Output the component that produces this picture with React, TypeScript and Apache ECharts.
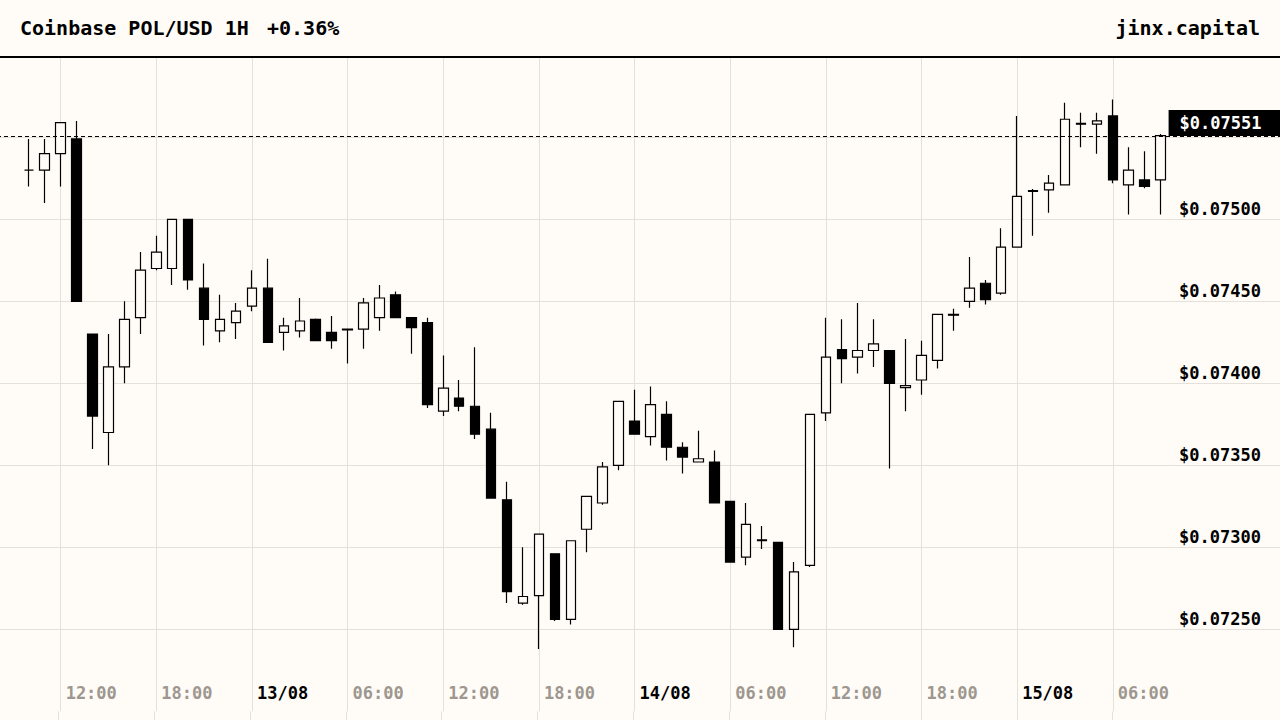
import React, { useEffect, useRef } from "react";
import * as echarts from "echarts";

// ---- data (prices in USD) ----
const START_HOUR = 10; // first candle: 12/08 10:00 (hours counted from 12/08 00:00)
const opens = [
  0.07530, 0.07530, 0.07540, 0.07549, 0.07430, 0.07370, 0.07410, 0.07440, 0.07470, 0.07470,
  0.07500, 0.07458, 0.07432, 0.07437, 0.07447, 0.07458, 0.07431, 0.07432, 0.07439, 0.07431,
  0.07433, 0.07433, 0.07440, 0.07454, 0.07440, 0.07437, 0.07383, 0.07391, 0.07386, 0.07372,
  0.07329, 0.07266, 0.072705, 0.07296, 0.07256, 0.07311, 0.07327, 0.07350, 0.07377, 0.073675,
  0.07381, 0.07361, 0.07352, 0.07352, 0.07328, 0.07294, 0.073045, 0.07303, 0.07250, 0.07289,
  0.07382, 0.074205, 0.07416, 0.07420, 0.07420, 0.073974, 0.07402, 0.07414, 0.07442, 0.07450,
  0.07461, 0.07455, 0.07483, 0.075175, 0.07518, 0.07521, 0.075585, 0.07558, 0.07563, 0.07521,
  0.07524, 0.07524,
];
const closes = [
  0.07530, 0.07540, 0.07559, 0.07450, 0.07380, 0.07410, 0.07439, 0.07469, 0.07480, 0.07500,
  0.07463, 0.07439, 0.07439, 0.07444, 0.07458, 0.07425, 0.07435, 0.07438, 0.07426, 0.07426,
  0.074325, 0.07449, 0.07452, 0.07440, 0.07434, 0.07387, 0.07397, 0.07386, 0.07369, 0.07330,
  0.07273, 0.07270, 0.07308, 0.07256, 0.07304, 0.07331, 0.07349, 0.07389, 0.07369, 0.07387,
  0.07361, 0.07355, 0.07354, 0.07327, 0.07291, 0.07314, 0.07304, 0.07250, 0.07285, 0.07381,
  0.07416, 0.07415, 0.07420, 0.07424, 0.07400, 0.073986, 0.07417, 0.07442, 0.074415, 0.07458,
  0.07451, 0.07483, 0.07514, 0.07517, 0.07522, 0.07561, 0.07558, 0.07560, 0.07524, 0.07530,
  0.07520, 0.07551,
];
const lows = [
  0.07520, 0.07510, 0.07520, 0.07450, 0.07360, 0.07350, 0.07400, 0.07430, 0.07469, 0.07460,
  0.07457, 0.07423, 0.07425, 0.07427, 0.07444, 0.07425, 0.07420, 0.07428, 0.07426, 0.07421,
  0.07412, 0.07421, 0.07432, 0.07440, 0.07418, 0.07385, 0.07380, 0.07383, 0.07366, 0.07330,
  0.07266, 0.07265, 0.07238, 0.07255, 0.07253, 0.07297, 0.07326, 0.07347, 0.07369, 0.07362,
  0.07353, 0.07345, 0.07352, 0.07327, 0.07291, 0.07289, 0.07299, 0.07250, 0.07239, 0.07288,
  0.07377, 0.07400, 0.07406, 0.07410, 0.07348, 0.07383, 0.07393, 0.07409, 0.07432, 0.07446,
  0.07448, 0.07454, 0.07483, 0.07490, 0.07504, 0.07521, 0.07544, 0.07540, 0.07522, 0.07503,
  0.07519, 0.07503,
];
const highs = [
  0.07549, 0.07549, 0.07559, 0.07560, 0.07430, 0.07430, 0.07450, 0.07480, 0.07490, 0.07500,
  0.07500, 0.07473, 0.07454, 0.07449, 0.07469, 0.07476, 0.07440, 0.07452, 0.074395, 0.07441,
  0.07433, 0.07452, 0.07460, 0.07456, 0.07440, 0.07440, 0.07417, 0.07402, 0.07422, 0.07382,
  0.07340, 0.07300, 0.07308, 0.07296, 0.07304, 0.07331, 0.07352, 0.07389, 0.07396, 0.07398,
  0.07389, 0.07364, 0.07371, 0.07359, 0.07328, 0.07327, 0.07313, 0.07303, 0.07291, 0.07381,
  0.07440, 0.07439, 0.07449, 0.07439, 0.07420, 0.07427, 0.07426, 0.07442, 0.074455, 0.07477,
  0.07463, 0.074945, 0.07563, 0.075185, 0.07527, 0.07571, 0.07565, 0.07565, 0.07573, 0.07544,
  0.075415, 0.07552,
];

const xTickHours = [12, 18, 24, 30, 36, 42, 48, 54, 60, 66, 72, 78];
const xTickLabels = ["12:00", "18:00", "13/08", "06:00", "12:00", "18:00", "14/08", "06:00", "12:00", "18:00", "15/08", "06:00"];
const yTickValues = [0.0725, 0.073, 0.0735, 0.074, 0.0745, 0.075];

const TITLE = "Coinbase POL/USD 1H";
const CHANGE = "+0.36%";
const BRAND = "jinx.capital";
const LAST_PRICE = closes[closes.length - 1];

// ---- style ----
const BG = "#fffcf7";
const GRID = "#e5e1da";
const GRAY = "#9d978f";
const FONT = '"DejaVu Sans Mono", monospace';

// The chart canvas starts OFF px left of the page so the x axis can start at a 6-hour tick.
const OFF = 38;
const W = 1280 + OFF;
const X_MIN = 6;
const X_MAX = 81.5;
const Y_MIN = 0.072;
const Y_MAX = 0.0759835;
const PLOT_RIGHT = 111.4;

export default function App() {
  const ref = useRef<HTMLDivElement>(null);

  useEffect(() => {
    document.body.style.margin = "0";
    document.body.style.background = BG;
    document.body.style.overflow = "hidden";
    if (!ref.current) return;
    const chart = echarts.init(ref.current, null, { renderer: "svg" });

    const candleData = opens.map((o, i) => [START_HOUR + i, o, closes[i], lows[i], highs[i]]);

    const splitLine = {
      show: true,
      showMinLine: false,
      showMaxLine: false,
      lineStyle: { color: GRID, width: 1 },
    };
    const hidden = { axisLine: { show: false }, axisTick: { show: false } };

    const xFormatter = (v: number) => {
      const r = Math.round(v);
      if (Math.abs(v - r) > 1e-6) return "";
      const idx = xTickHours.indexOf(r);
      if (idx < 0) return "";
      const lab = xTickLabels[idx];
      return lab.indexOf("/") >= 0 ? `{d|${lab}}` : `{t|${lab}}`;
    };
    const yFormatter = (v: number) => {
      const k = Math.round(v * 1e5);
      const ok = yTickValues.some((t) => Math.round(t * 1e5) === k);
      return ok ? "$" + v.toFixed(5) : "";
    };

    const gridLeft = 0.44;
    const option: any = {
      animation: false,
      backgroundColor: BG,
      grid: [
        { left: gridLeft, right: PLOT_RIGHT, top: 58, bottom: 8.7 },
        { left: W - PLOT_RIGHT, right: 0, top: 58, bottom: 8.7 },
        { left: gridLeft, right: PLOT_RIGHT, top: 711.3, bottom: 0 },
      ],
      xAxis: [
        {
          type: "value",
          gridIndex: 0,
          min: X_MIN,
          max: X_MAX,
          interval: 6,
          ...hidden,
          splitLine,
          axisLabel: {
            inside: true,
            align: "left",
            margin: 10,
            padding: [0, 0, 0, 5],
            formatter: xFormatter,
            rich: {
              d: { color: "#000", fontFamily: FONT, fontWeight: "bold", fontSize: 17, lineHeight: 17 },
              t: { color: GRAY, fontFamily: FONT, fontWeight: "bold", fontSize: 17, lineHeight: 17 },
            },
          },
        },
        { type: "value", gridIndex: 1, min: 0, max: 1, show: false },
        {
          type: "value",
          gridIndex: 2,
          min: X_MIN,
          max: X_MAX,
          interval: 6,
          ...hidden,
          axisLabel: { show: false },
          splitLine,
        },
      ],
      yAxis: [
        {
          type: "value",
          gridIndex: 0,
          min: Y_MIN,
          max: Y_MAX,
          interval: 0.0005,
          position: "right",
          ...hidden,
          axisLabel: { show: false },
          splitLine,
        },
        {
          type: "value",
          gridIndex: 1,
          min: Y_MIN,
          max: Y_MAX,
          interval: 0.0005,
          position: "left",
          ...hidden,
          splitLine,
          axisLabel: {
            inside: true,
            margin: 10.4,
            verticalAlign: "bottom",
            formatter: yFormatter,
            color: "#000",
            fontFamily: FONT,
            fontWeight: "bold",
            fontSize: 17,
            lineHeight: 17,
            padding: [0, 0, 2, 0],
          },
        },
        { type: "value", gridIndex: 2, min: 0, max: 1, show: false },
      ],
      series: [
        {
          type: "candlestick",
          xAxisIndex: 0,
          yAxisIndex: 0,
          dimensions: ["time", "open", "close", "lowest", "highest"],
          encode: { x: "time", y: ["open", "close", "lowest", "highest"] },
          data: candleData,
          barWidth: 10,
          itemStyle: {
            color: BG,
            color0: "#000",
            borderColor: "#000",
            borderColor0: "#000",
            borderColorDoji: "#000",
            borderWidth: 1.2,
          },
          z: 3,
        },
      ],
      graphic: [
        {
          id: "hdrBg",
          type: "rect",
          z: 100,
          shape: { x: 0, y: 0, width: W, height: 56 },
          style: { fill: BG },
        },
        {
          id: "hdrLine",
          type: "line",
          z: 101,
          shape: { x1: 0, y1: 57, x2: W, y2: 57 },
          style: { stroke: "#000", lineWidth: 2 },
        },
        {
          id: "title",
          type: "text",
          z: 101,
          x: OFF + 20,
          y: 28,
          style: { text: TITLE, fill: "#000", font: `bold 20px ${FONT}`, verticalAlign: "middle", align: "left" },
        },
        {
          id: "change",
          type: "text",
          z: 101,
          x: OFF + 267,
          y: 28,
          style: { text: CHANGE, fill: "#000", font: `bold 20px ${FONT}`, verticalAlign: "middle", align: "left" },
        },
        {
          id: "brand",
          type: "text",
          z: 101,
          x: OFF + 1260,
          y: 28,
          style: { text: BRAND, fill: "#000", font: `bold 20px ${FONT}`, verticalAlign: "middle", align: "right" },
        },
      ],
    };

    chart.setOption(option);

    // last-price dashed line and tag, placed through the y axis scale
    const py = chart.convertToPixel({ yAxisIndex: 0 }, LAST_PRICE) as number;
    const tagX = W - PLOT_RIGHT;
    chart.setOption({
      graphic: [
        {
          id: "lastLine",
          type: "line",
          z: 50,
          shape: { x1: 0, y1: Math.round(py) + 0.5, x2: W, y2: Math.round(py) + 0.5 },
          style: { stroke: "#000", lineWidth: 1, lineDash: [4, 3] },
        },
        {
          id: "lastTag",
          type: "rect",
          z: 51,
          shape: { x: tagX, y: Math.round(py) - 26, width: PLOT_RIGHT, height: 26 },
          style: { fill: "#000" },
        },
        {
          id: "lastTagText",
          type: "text",
          z: 52,
          x: tagX + 11,
          y: Math.round(py) - 13,
          style: {
            text: "$" + LAST_PRICE.toFixed(5),
            fill: "#fff",
            font: `bold 17px ${FONT}`,
            verticalAlign: "middle",
            align: "left",
          },
        },
      ],
    });

    return () => chart.dispose();
  }, []);

  return (
    <div
      ref={ref}
      style={{ width: W, height: 720, position: "fixed", left: -OFF, top: 0, background: BG }}
    />
  );
}
